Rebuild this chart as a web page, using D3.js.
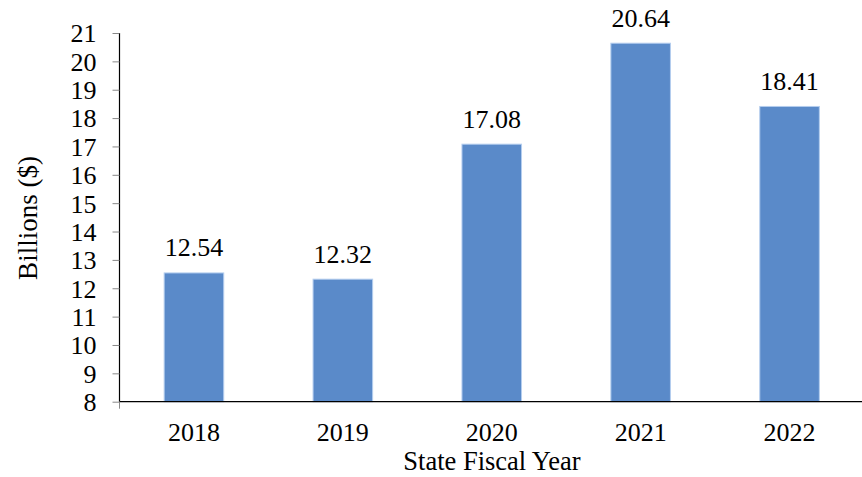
<!DOCTYPE html>
<html><head><meta charset="utf-8">
<script src="https://cdn.jsdelivr.net/npm/d3@7"></script>
<style>body{margin:0;background:#fff}svg{display:block}</style>
</head><body>
<script>
const years = ["2018","2019","2020","2021","2022"];
const values = [12.54, 12.32, 17.08, 20.64, 18.41];
const yTicks = [8,9,10,11,12,13,14,15,16,17,18,19,20,21];

const W = 862, H = 477;
const FONT = '"Liberation Serif","Times New Roman",serif';
const FS = 26;
const svg = d3.select("body").append("svg").attr("width", W).attr("height", H);
const x0 = 119.5, x1 = 864, yTop = 33, yBot = 401.7;
const x = d3.scaleBand().domain(years).range([x0, x1]).paddingInner(0.6).paddingOuter(0.3);
const y = d3.scaleLinear().domain([8, 21]).range([yBot, yTop]);

svg.append("g").selectAll("rect").data(values).join("rect")
  .attr("x", (d,i) => x(years[i]))
  .attr("y", d => y(d))
  .attr("width", x.bandwidth())
  .attr("height", d => yBot - y(d))
  .attr("fill", "#5a8ac9")
  .attr("stroke", "#b4cdee").attr("stroke-width", 1);

svg.append("g").selectAll("text").data(values).join("text")
  .attr("x", (d,i) => x(years[i]) + x.bandwidth()/2)
  .attr("y", d => y(d) - 16.5)
  .attr("text-anchor", "middle").attr("font-size", FS).attr("font-family", FONT).attr("fill", "#000")
  .text(d => d.toFixed(2));

// y axis
const ya = svg.append("g").attr("transform", `translate(${x0},0)`)
  .call(d3.axisLeft(y).tickValues(yTicks).tickSize(7).tickPadding(16).tickFormat(d3.format("d")));
ya.attr("font-family", FONT).attr("font-size", FS);
ya.select(".domain").attr("stroke", "#000").attr("stroke-width", 1.2).attr("d", `M0,${yTop}V${yBot}`);
ya.selectAll(".tick line").attr("stroke", "#888");
ya.selectAll(".tick text").attr("fill", "#000").attr("dy", "0.34em");

// x axis
const xa = svg.append("g").attr("transform", `translate(0,${yBot})`)
  .call(d3.axisBottom(x).tickSize(0));
xa.attr("font-family", FONT).attr("font-size", FS);
xa.select(".domain").attr("stroke", "#000").attr("stroke-width", 1.2).attr("d", `M${x0},0H${x1}`);
xa.selectAll(".tick text").attr("fill", "#000").attr("dy", null).attr("y", 39.5);
xa.append("line").attr("x1", x0).attr("x2", x0).attr("y1", 0).attr("y2", 7).attr("stroke", "#888");

svg.append("text").attr("x", 492).attr("y", 470).attr("text-anchor", "middle").attr("font-size", 26.5).attr("font-family", FONT).attr("fill", "#000").text("State Fiscal Year");
svg.append("text").attr("transform", "translate(37,218) rotate(-90)").attr("text-anchor", "middle").attr("font-size", 27).attr("font-family", FONT).attr("fill", "#000").text("Billions ($)");
</script>
</body></html>
